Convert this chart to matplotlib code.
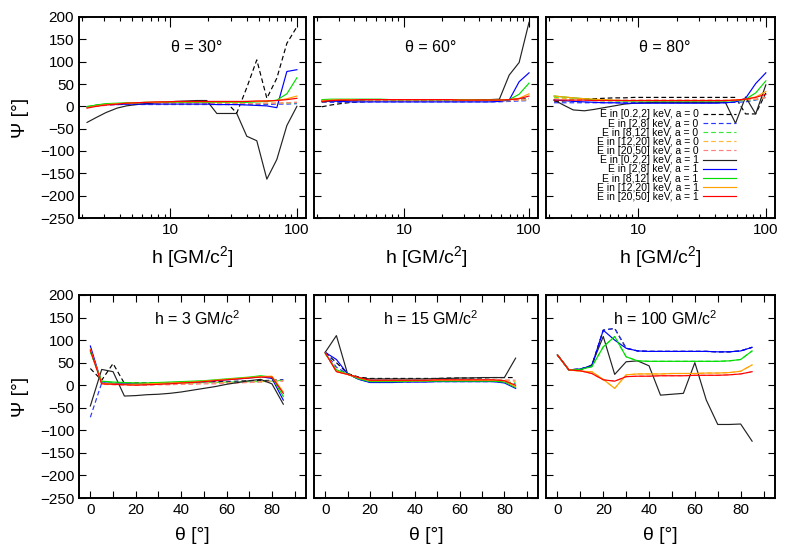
import matplotlib
matplotlib.use('Agg')
import matplotlib.pyplot as plt
from matplotlib.ticker import FixedLocator, LogLocator, MultipleLocator, NullFormatter

plt.rcParams['font.family'] = ['Liberation Sans', 'DejaVu Sans']
plt.rcParams['mathtext.fontset'] = 'custom'
plt.rcParams['mathtext.rm'] = 'Liberation Sans'
plt.rcParams['mathtext.it'] = 'Liberation Sans:italic'

# height of the source h [GM/c^2] (top row) and inclination theta [deg] (bottom row)
h = [2.2, 2.6, 3.1, 3.8, 4.5, 5.4, 6.5, 7.8, 9.3, 11.2, 13.5, 16.2, 19.4, 23.3,
     27.9, 33.5, 40.2, 48.2, 57.9, 69.4, 83.3, 100]
theta = [0, 5, 10, 15, 20, 25, 30, 35, 40, 45, 50, 55, 60, 65, 70, 75, 80, 85]

bands = ['[0.2,2]', '[2,8]', '[8,12]', '[12,20]', '[20,50]']

# Psi [deg], rows = energy bands in the order of `bands`
t30_a0 = [
    [-2, 1, 3, 5, 6, 7, 7, 8, 8, 8, 8, 8, 8, 8, 8, -15, 42, 104, 18, 63, 141, 178],
    [-2, 1, 3, 4, 4, 4, 4, 4, 4, 4, 4, 4, 4, 4, 4, 4, 4, 4, 4, 5, 5, 6],
    [0, 3, 5, 6, 6, 6, 6, 6, 6, 6, 6, 6, 6, 6, 6, 6, 6, 6, 6, 7, 7, 8],
    [-1, 2, 4, 5, 6, 6, 6, 6, 6, 6, 6, 6, 6, 6, 6, 6, 6, 6, 7, 7, 8, 9],
    [-3, 0, 2, 4, 5, 6, 6, 6, 6, 6, 6, 6, 6, 6, 6, 6, 6, 6, 7, 7, 8, 9],
]
t30_a1 = [
    [-36, -25, -14, -4, 1, 4, 6, 8, 10, 11, 12, 13, 13, -16, -16, -16, -67, -77, -163, -119, -43, 0],
    [-2, 2, 4, 4, 5, 5, 5, 5, 5, 5, 5, 5, 5, 4, 4, 4, 3, 2, 1, -3, 78, 82],
    [-1, 3, 6, 7, 8, 8, 9, 9, 9, 9, 9, 9, 9, 9, 9, 9, 9, 10, 11, 14, 28, 64],
    [-3, 1, 4, 6, 7, 8, 9, 9, 10, 10, 10, 10, 10, 10, 10, 10, 11, 11, 12, 13, 17, 23],
    [-4, 0, 3, 5, 7, 8, 9, 10, 10, 11, 11, 11, 11, 11, 11, 11, 11, 12, 12, 13, 15, 18],
]
t60_a0 = [
    [-1, 3, 6, 9, 10, 11, 12, 12, 12, 12, 13, 13, 13, 13, 13, 13, 13, 13, 14, 15, 16, 17],
    [9, 9, 9, 10, 10, 10, 10, 10, 10, 10, 10, 10, 10, 10, 10, 10, 10, 10, 10, 11, 12, 13],
    [12, 12, 12, 12, 12, 12, 12, 12, 12, 12, 12, 12, 12, 12, 12, 12, 12, 12, 12, 13, 14, 15],
    [11, 12, 12, 12, 12, 12, 12, 12, 12, 12, 12, 12, 12, 12, 12, 12, 12, 12, 12, 13, 14, 15],
    [10, 11, 12, 12, 12, 12, 12, 12, 12, 12, 12, 12, 12, 12, 12, 12, 12, 12, 12, 13, 14, 15],
]
t60_a1 = [
    [10, 12, 13, 14, 14, 15, 15, 15, 15, 15, 15, 15, 15, 15, 15, 15, 15, 15, 16, 70, 98, 188],
    [13, 12, 11, 10, 10, 10, 10, 10, 10, 10, 10, 10, 10, 10, 10, 10, 10, 10, 11, 14, 55, 75],
    [15, 16, 16, 16, 16, 16, 16, 15, 15, 15, 15, 15, 15, 15, 15, 15, 14, 14, 14, 15, 27, 52],
    [13, 14, 15, 15, 15, 15, 15, 15, 15, 15, 15, 15, 15, 15, 14, 14, 14, 14, 14, 15, 18, 28],
    [11, 13, 14, 14, 15, 15, 15, 15, 15, 15, 15, 15, 15, 15, 14, 14, 14, 14, 14, 15, 17, 23],
]
t80_a0 = [
    [10, 12, 14, 16, 17, 18, 19, 19, 20, 20, 20, 20, 20, 20, 20, 20, 20, 20, 20, -17, -17, 30],
    [8, 8, 8, 8, 8, 8, 8, 8, 8, 8, 8, 8, 8, 8, 8, 8, 8, 8, 9, 10, 14, 20],
    [20, 18, 16, 14, 13, 12, 12, 12, 12, 12, 12, 12, 12, 12, 12, 12, 12, 12, 12, 13, 15, 20],
    [18, 17, 16, 15, 14, 13, 13, 13, 13, 13, 13, 13, 13, 13, 13, 13, 13, 13, 13, 14, 16, 20],
    [13, 13, 13, 13, 13, 13, 14, 14, 14, 14, 14, 14, 14, 14, 14, 14, 14, 14, 14, 15, 16, 20],
]
t80_a1 = [
    [14, 3, -8, -10, -7, -3, 1, 5, 7, 8, 9, 9, 9, 9, 9, 9, 9, 9, -38, 21, -17, 48],
    [14, 13, 11, 10, 9, 8, 8, 7, 7, 7, 7, 7, 7, 7, 7, 7, 7, 8, 10, 18, 51, 75],
    [23, 21, 19, 17, 15, 14, 13, 12, 12, 12, 12, 12, 12, 12, 12, 12, 12, 12, 13, 16, 30, 57],
    [23, 21, 19, 17, 16, 15, 14, 13, 13, 13, 13, 13, 13, 13, 13, 13, 13, 13, 14, 16, 21, 33],
    [14, 14, 14, 14, 13, 13, 13, 13, 13, 13, 13, 13, 13, 13, 13, 13, 13, 13, 14, 16, 20, 27],
]
h3_a0 = [
    [37, 11, 48, 4, 5, 5, 5, 6, 6, 7, 7, 8, 8, 9, 10, 10, 11, 12],
    [-71, 5, 3, 3, 3, 3, 4, 4, 5, 5, 6, 6, 7, 7, 8, 8, 9, 12],
    [75, 8, 6, 5, 4, 4, 4, 5, 5, 5, 6, 6, 7, 7, 8, 8, 9, 11],
    [78, 4, 3, 2, 2, 2, 3, 3, 4, 4, 5, 5, 6, 6, 7, 8, 9, 10],
    [78, 2, 1, 0, 0, 0, 1, 1, 2, 2, 3, 3, 4, 5, 6, 7, 8, 9],
]
h3_a1 = [
    [-46, 35, 30, -24, -23, -21, -20, -18, -15, -11, -7, -3, 2, 6, 10, 13, 3, -42],
    [87, 5, 4, 3, 3, 3, 4, 5, 6, 7, 8, 10, 12, 14, 16, 19, 15, -33],
    [74, 9, 7, 6, 5, 5, 6, 7, 8, 9, 10, 12, 14, 16, 18, 21, 18, -25],
    [80, 4, 3, 2, 2, 3, 4, 5, 6, 7, 9, 11, 13, 15, 17, 19, 20, -15],
    [78, 3, 2, 1, 0, 1, 2, 3, 5, 6, 8, 10, 12, 14, 16, 18, 18, -18],
]
h15_a0 = [
    [73, 50, 26, 18, 15, 15, 15, 15, 15, 15, 15, 16, 16, 16, 16, 17, 17, 17],
    [73, 40, 25, 13, 7, 6, 7, 7, 8, 8, 8, 8, 8, 8, 8, 8, 7, 3],
    [70, 34, 25, 14, 8, 8, 8, 9, 9, 9, 9, 9, 9, 9, 9, 9, 8, 5],
    [72, 31, 24, 16, 10, 10, 10, 10, 10, 10, 10, 11, 11, 11, 11, 11, 11, 8],
    [72, 30, 24, 17, 11, 11, 11, 11, 11, 11, 12, 12, 12, 12, 12, 12, 12, 11],
]
h15_a1 = [
    [73, 110, 25, 16, 14, 14, 14, 14, 14, 14, 15, 15, 16, 16, 17, 17, 17, 60],
    [73, 57, 25, 13, 6, 6, 6, 7, 7, 7, 8, 8, 8, 8, 8, 8, 5, -7],
    [70, 34, 25, 14, 8, 8, 8, 8, 9, 9, 9, 9, 9, 9, 9, 9, 7, -5],
    [72, 31, 24, 16, 10, 10, 10, 10, 10, 10, 11, 11, 11, 11, 11, 11, 10, -3],
    [72, 30, 24, 17, 11, 11, 11, 11, 11, 11, 12, 12, 12, 12, 12, 12, 10, 0],
]
h100_a0 = [
    [67, 34, 36, 43, 122, 126, 82, 76, 75, 75, 75, 75, 75, 75, 74, 74, 76, 84],
    [67, 34, 36, 43, 122, 126, 82, 76, 75, 75, 75, 75, 75, 75, 74, 74, 76, 84],
    [67, 34, 35, 41, 85, 108, 63, 54, 53, 53, 53, 53, 53, 53, 53, 54, 57, 76],
    [67, 34, 31, 30, 13, -7, 23, 25, 25, 25, 26, 26, 26, 27, 27, 28, 31, 45],
    [67, 34, 32, 26, 12, 9, 19, 20, 20, 21, 21, 21, 22, 22, 22, 23, 25, 30],
]
h100_a1 = [
    [67, 34, 34, 45, 108, 24, 52, 54, 43, -22, -20, -18, 50, -33, -87, -87, -86, -124],
    [67, 34, 36, 43, 122, 100, 82, 76, 75, 75, 75, 75, 75, 75, 74, 74, 76, 84],
    [67, 34, 35, 41, 85, 108, 63, 54, 53, 53, 53, 53, 53, 53, 53, 54, 57, 76],
    [67, 34, 31, 30, 13, -7, 23, 25, 25, 25, 26, 26, 26, 27, 27, 28, 31, 45],
    [67, 34, 32, 26, 12, 9, 19, 20, 20, 21, 21, 21, 22, 22, 22, 23, 25, 30],
]

colors_a0 = ['black', '#2838ff', '#38e838', '#ffb838', '#ff8080']
colors_a1 = ['#222222', '#0000ff', '#00dd00', '#ffa200', '#ff0000']

W, H = 790, 553
fig = plt.figure(figsize=(W / 100, H / 100), dpi=100)

cols = [(79, 306), (314, 538), (546, 775)]
rows = [(17, 218), (295, 498)]


def make_ax(col, row):
    x0, x1 = cols[col]
    y0, y1 = rows[row]
    return fig.add_axes([x0 / W, (H - y1) / H, (x1 - x0) / W, (y1 - y0) / H])


def draw(ax, x, a0, a1):
    for ys, c, b in zip(a0, colors_a0, bands):
        ax.plot(x, ys, color=c, lw=0.85, dashes=(4, 2.5), label='E in %s keV, a = 0' % b)
    for ys, c, b in zip(a1, colors_a1, bands):
        ax.plot(x, ys, color=c, lw=0.85, label='E in %s keV, a = 1' % b)
    ax.set_ylim(-250, 200)
    ax.yaxis.set_major_locator(MultipleLocator(50))
    ax.tick_params(which='both', direction='in', top=True, right=True, labelsize=11, width=0.8)
    ax.tick_params(which='major', length=5)
    ax.tick_params(which='minor', length=3)
    for s in ax.spines.values():
        s.set_linewidth(1.4)


top = [(t30_a0, t30_a1, u'\u03b8 = 30\u00b0'),
       (t60_a0, t60_a1, u'\u03b8 = 60\u00b0'),
       (t80_a0, t80_a1, u'\u03b8 = 80\u00b0')]
bottom = [(h3_a0, h3_a1, 'h = 3 GM/c$^2$'),
          (h15_a0, h15_a1, 'h = 15 GM/c$^2$'),
          (h100_a0, h100_a1, 'h = 100 GM/c$^2$')]

for i, (a0, a1, title) in enumerate(top):
    ax = make_ax(i, 0)
    draw(ax, h, a0, a1)
    ax.set_xscale('log')
    ax.set_xlim(1.9, 118)
    ax.xaxis.set_major_locator(FixedLocator([10, 100]))
    ax.xaxis.set_minor_locator(LogLocator(base=10, subs=range(2, 10)))
    ax.xaxis.set_minor_formatter(NullFormatter())
    ax.set_xticklabels(['10', '100'])
    ax.tick_params(axis='x', which='major', length=7)
    ax.set_xlabel('h [GM/c$^2$]', fontsize=14, labelpad=5)
    ax.text(0.52, 0.846, title, transform=ax.transAxes, ha='center', va='center', fontsize=11.5)
    if i == 0:
        ax.set_ylabel(u'\u03a8 [\u00b0]', fontsize=14, labelpad=8)
    else:
        ax.tick_params(labelleft=False)
    if i == 2:
        ax.legend(loc='upper right', bbox_to_anchor=(0.83, 0.54), frameon=False,
                  markerfirst=False, fontsize=7.5, handlelength=3.2, labelspacing=-0.08,
                  borderpad=0, handletextpad=0.4, borderaxespad=0)

for i, (a0, a1, title) in enumerate(bottom):
    ax = make_ax(i, 1)
    draw(ax, theta, a0, a1)
    ax.set_xlim(-5, 95)
    ax.xaxis.set_major_locator(MultipleLocator(20))
    ax.xaxis.set_minor_locator(MultipleLocator(10))
    ax.tick_params(axis='x', which='minor', length=5)
    ax.set_xlabel(u'\u03b8 [\u00b0]', fontsize=14, labelpad=7)
    ax.text(0.52, 0.885, title, transform=ax.transAxes, ha='center', va='center', fontsize=11.5)
    if i == 0:
        ax.set_ylabel(u'\u03a8 [\u00b0]', fontsize=14, labelpad=8)
    else:
        ax.tick_params(labelleft=False)

fig.savefig('out.png', dpi=100)
